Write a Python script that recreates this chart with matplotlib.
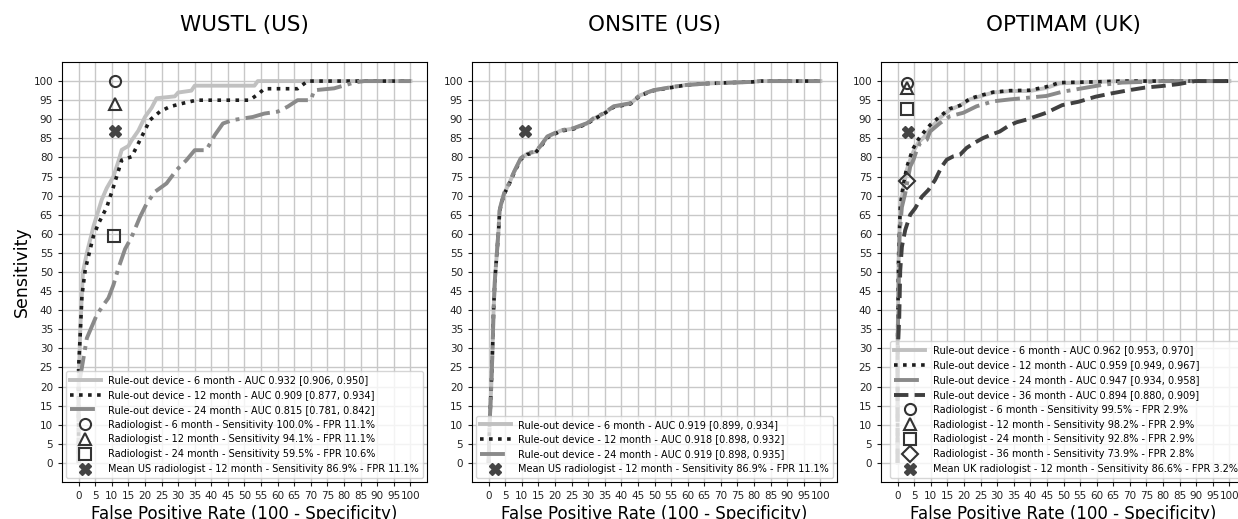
import matplotlib
matplotlib.use("Agg")
import matplotlib.pyplot as plt

# ---------------- Data ----------------
titles = ["WUSTL (US)", "ONSITE (US)", "OPTIMAM (UK)"]
ticks = list(range(0, 101, 5))

# WUSTL
w6_fpr = [0, 0, 0.5, 1.3, 2.5, 4.5, 7, 8.5, 10.5, 12, 13, 15, 16, 18, 20, 22, 23.5, 29, 30, 34, 35, 53, 54, 100]
w6_tpr = [0, 20, 35, 50, 55, 62, 69, 72, 75, 79, 82, 83, 84.5, 87, 90.6, 93, 95.5, 96, 97, 97.5, 98.8, 98.8, 100, 100]
w12_fpr = [0, 0, 0.3, 1, 2, 3.5, 4.5, 6, 8.5, 10.5, 13, 16, 19, 21.5, 24.5, 27.5, 31, 35.5, 51.5, 54, 56, 66, 69, 100]
w12_tpr = [0, 25, 30, 43.7, 50.6, 56, 59.5, 62.7, 67, 72.3, 79.3, 80.2, 85.4, 89.8, 92, 93.3, 94.1, 95, 95, 96.5, 98, 98, 100, 100]
w24_fpr = [0, 0, 1, 2.5, 5.5, 7.5, 9, 10.5, 12, 14, 16, 18.5, 20.5, 23, 26.5, 29.5, 32.5, 35, 38.5, 41, 43.5,
           46.5, 52.5, 56, 60, 63, 66, 70, 71, 77, 83, 86, 100]
w24_tpr = [0, 20, 25, 32.7, 38.8, 41.4, 43.2, 46.6, 51, 56, 59.2, 64.4, 67.9, 71, 73.2, 76.7, 79.3, 81.9, 81.9, 85.8,
           88.9, 89.8, 90.6, 91.5, 92, 93.3, 95, 95, 97.6, 98.1, 99.6, 100, 100]

# ONSITE
o_fpr = [0, 0.3, 0.8, 1.2, 1.5, 1.9, 2.5, 3, 3.3, 3.7, 4.7, 6.2, 7.7, 9.7, 11.7, 14.2, 15.7, 17.7, 21.7, 25.7,
         29.7, 31.7, 34.7, 37.7, 42.7, 45.7, 49.7, 55.7, 59.7, 66.7, 79.7, 81.7, 100]
o6_tpr = [0, 10, 20, 30, 40, 48, 55, 61, 66, 67.5, 70.6, 73.2, 76.2, 79.7, 81, 81.5, 83, 85.4, 87, 87.6,
          88.9, 90.2, 91.5, 93.3, 94.1, 96.3, 97.6, 98.5, 99, 99.4, 99.8, 100, 100]
o12_tpr = [0, 10, 20, 30, 40, 48, 55, 60.5, 65.5, 67.5, 70.4, 73.0, 76.0, 79.5, 80.8, 81.3, 82.8, 85.2, 86.9, 87.5,
           88.8, 90.0, 91.4, 93.2, 94.0, 96.2, 97.5, 98.4, 99, 99.4, 99.8, 100, 100]
o24_tpr = [0, 10, 20, 30, 40, 48, 55, 61, 66, 67.6, 70.7, 73.3, 76.3, 79.8, 81.1, 81.6, 83.1, 85.5, 87.1, 87.7,
           89.0, 90.3, 91.6, 93.4, 94.2, 96.4, 97.6, 98.5, 99, 99.4, 99.8, 100, 100]

# OPTIMAM
u6_fpr = [0, 0, 0.3, 0.8, 1.3, 2, 2.8, 3.8, 4.8, 6.3, 7.8, 9.8, 12.8, 15.8, 18.8, 21.8, 24.8, 28.8, 33.8, 39.8,
          44.8, 48.8, 59.6, 67.6, 100]
u6_tpr = [0, 30, 53, 66, 69.7, 73.2, 76.8, 79.4, 81.6, 84.0, 85.2, 87.5, 90.4, 92.5, 93.6, 95.2, 96, 97, 97.4, 97.4,
          98.2, 99.4, 99.8, 100, 100]
u12_fpr = [0, 0, 0.3, 0.8, 1.3, 2, 2.8, 3.8, 4.8, 6.3, 7.8, 9.8, 12.8, 15.8, 18.8, 21.8, 24.8, 28.8, 33.8, 39.8,
           44.8, 48.8, 59.6, 67.6, 100]
u12_tpr = [0, 32, 54, 67, 70.5, 74, 77.5, 80.2, 82.5, 84.8, 86.5, 88.5, 90.8, 92.8, 93.6, 95.4, 96.2, 97.1, 97.5, 97.6,
           98.5, 99.6, 99.8, 100, 100]
u24_fpr = [0, 0, 0.6, 1.3, 2.3, 3.8, 4.8, 5.8, 6.8, 8.8, 9.8, 12.8, 15.8, 19.8, 23.8, 28.8, 33.8, 38.8, 44.8,
           49.6, 55.6, 61.6, 67.6, 74.6, 80, 100]
u24_tpr = [0, 30, 60, 67, 70.6, 77.6, 79.4, 82, 83.8, 84.6, 86.8, 89, 90.8, 91.7, 93.4, 94.7, 95.2, 95.6, 96.1,
           97.2, 98.1, 99, 99.6, 99.8, 100, 100]
u36_fpr = [0, 0, 0.5, 0.8, 1.3, 2.3, 3.8, 5.3, 7.3, 9.3, 11.3, 13.3, 14.8, 16.8, 18.8, 20.8, 23.3, 25.8, 28.3,
           30.8, 33.3, 35.8, 38.8, 41.8, 44.8, 49.6, 54.6, 59.6, 64.6, 69.6, 74.6, 79.6, 84.6, 89.6, 100]
u36_tpr = [0, 28, 38, 50.4, 56.6, 61, 65, 66.7, 69.7, 71.5, 74.1, 77.6, 79.4, 80.3, 80.7, 82.5, 83.9, 85.1, 86,
           86.8, 88.2, 89.2, 89.9, 90.8, 91.7, 93.7, 94.6, 95.9, 96.8, 97.6, 98.3, 98.7, 99.2, 100, 100]

# Curve labels
w_labels = ["Rule-out device - 6 month - AUC 0.932 [0.906, 0.950]",
            "Rule-out device - 12 month - AUC 0.909 [0.877, 0.934]",
            "Rule-out device - 24 month - AUC 0.815 [0.781, 0.842]"]
o_labels = ["Rule-out device - 6 month - AUC 0.919 [0.899, 0.934]",
            "Rule-out device - 12 month - AUC 0.918 [0.898, 0.932]",
            "Rule-out device - 24 month - AUC 0.919 [0.898, 0.935]"]
u_labels = ["Rule-out device - 6 month - AUC 0.962 [0.953, 0.970]",
            "Rule-out device - 12 month - AUC 0.959 [0.949, 0.967]",
            "Rule-out device - 24 month - AUC 0.947 [0.934, 0.958]",
            "Rule-out device - 36 month - AUC 0.894 [0.880, 0.909]"]

# Radiologist operating points
w_points_fpr = [11.1, 11.1, 10.6]
w_points_sens = [100.0, 94.1, 59.5]
w_points_lab = ["Radiologist - 6 month - Sensitivity 100.0% - FPR 11.1%",
                "Radiologist - 12 month - Sensitivity 94.1% - FPR 11.1%",
                "Radiologist - 24 month - Sensitivity 59.5% - FPR 10.6%"]
w_mean = (11.1, 86.9, "Mean US radiologist - 12 month - Sensitivity 86.9% - FPR 11.1%")
o_mean = (11.1, 86.9, "Mean US radiologist - 12 month - Sensitivity 86.9% - FPR 11.1%")
u_points_fpr = [2.9, 2.9, 2.9, 2.8]
u_points_sens = [99.5, 98.2, 92.8, 73.9]
u_points_lab = ["Radiologist - 6 month - Sensitivity 99.5% - FPR 2.9%",
                "Radiologist - 12 month - Sensitivity 98.2% - FPR 2.9%",
                "Radiologist - 24 month - Sensitivity 92.8% - FPR 2.9%",
                "Radiologist - 36 month - Sensitivity 73.9% - FPR 2.8%"]
u_mean = (3.2, 86.6, "Mean UK radiologist - 12 month - Sensitivity 86.6% - FPR 3.2%")

# ---------------- Styles ----------------
line_styles = [dict(color="#c0c0c0", ls="-", lw=2.8),
               dict(color="#1e1e1e", ls=(0, (1, 1.5)), lw=2.6),
               dict(color="#8a8a8a", ls="-.", lw=2.8),
               dict(color="#404040", ls="--", lw=2.8)]
markers = ["o", "^", "s", "D"]

fig = plt.figure(figsize=(12.38, 5.19), dpi=100)
W, H = 1238, 519
lefts = [62, 472, 881]
axes = [fig.add_axes([l / W, 1 - 482 / H, 365 / W, 420 / H]) for l in lefts]

curves = [
    ([(w6_fpr, w6_tpr), (w12_fpr, w12_tpr), (w24_fpr, w24_tpr)], w_labels,
     (w_points_fpr, w_points_sens, w_points_lab), w_mean),
    ([(o_fpr, o6_tpr), (o_fpr, o12_tpr), (o_fpr, o24_tpr)], o_labels, None, o_mean),
    ([(u6_fpr, u6_tpr), (u12_fpr, u12_tpr), (u24_fpr, u24_tpr), (u36_fpr, u36_tpr)], u_labels,
     (u_points_fpr, u_points_sens, u_points_lab), u_mean),
]

for ax, title, (cs, labs, pts, mean) in zip(axes, titles, curves):
    ax.set_axisbelow(True)
    ax.grid(True, color="#c8c8c8", lw=1.0)
    for i, ((fx, ty), lab) in enumerate(zip(cs, labs)):
        st = line_styles[i]
        ax.plot(fx, ty, color=st["color"], linestyle=st["ls"], lw=st["lw"], label=lab, zorder=2 + i * 0.1)
    if pts is not None:
        for i, (px, py, pl) in enumerate(zip(*pts)):
            ax.plot([px], [py], linestyle="none", marker=markers[i], markersize=8,
                    markerfacecolor="none", markeredgecolor="#333333", markeredgewidth=1.5,
                    label=pl, zorder=5)
    ax.plot([mean[0]], [mean[1]], linestyle="none", marker="X", markersize=8,
            color="#444444", label=mean[2], zorder=5)
    ax.set_xlim(-5, 105)
    ax.set_ylim(-5, 105)
    ax.set_xticks(ticks)
    ax.set_yticks(ticks)
    ax.tick_params(labelsize=7.5, colors="#222222", length=3)
    ax.set_title(title, fontsize=15.5, pad=22)
    ax.set_xlabel("False Positive Rate (100 - Specificity)", fontsize=12, labelpad=3)
    ax.legend(loc="lower right", fontsize=7, handlelength=3.2, borderaxespad=0.4,
              labelspacing=0.5)

axes[0].set_ylabel("Sensitivity", fontsize=12.5, labelpad=2)

fig.savefig("out.png", dpi=100)
